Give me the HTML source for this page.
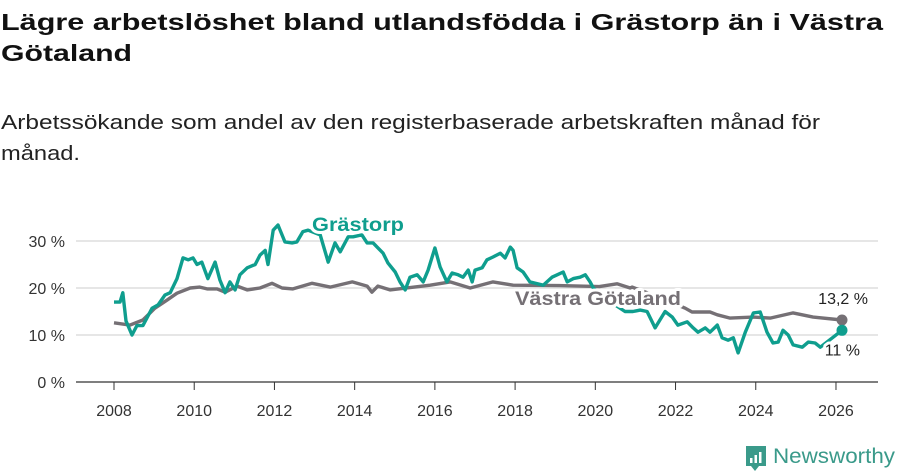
<!DOCTYPE html>
<html><head><meta charset="utf-8"><style>
body{margin:0;background:#fff;}
svg{display:block;font-family:"Liberation Sans",sans-serif;}
</style></head><body>
<svg id="chart" width="900" height="474" viewBox="0 0 900 474" xmlns="http://www.w3.org/2000/svg">
<text x="1" y="30" font-size="23" font-weight="bold" fill="#111" textLength="882" lengthAdjust="spacingAndGlyphs">Lägre arbetslöshet bland utlandsfödda i Grästorp än i Västra</text>
<text x="1" y="61" font-size="23" font-weight="bold" fill="#111" textLength="131" lengthAdjust="spacingAndGlyphs">Götaland</text>
<text x="1" y="129" font-size="20" fill="#222" textLength="819" lengthAdjust="spacingAndGlyphs">Arbetssökande som andel av den registerbaserade arbetskraften månad för</text>
<text x="1" y="160" font-size="20" fill="#222" textLength="79" lengthAdjust="spacingAndGlyphs">månad.</text>
<g id="grid"></g><g id="xaxis"></g><g id="series"></g><g id="labels"></g>
<g>
<path d="M746 446h20v20h-7l-4 5l-4-5h-5z" fill="#3a9a8a"/>
<rect x="750" y="458" width="2.5" height="5" fill="#fff"/><rect x="754.5" y="455" width="2.5" height="8" fill="#fff"/><rect x="759" y="452" width="2.5" height="11" fill="#fff"/>
<text x="773" y="463" font-size="21" fill="#3a9a8a" textLength="122" lengthAdjust="spacingAndGlyphs">Newsworthy</text>
</g>
</svg>
<script>
const yTicks=[0,10,20,30];
const yTickLabels=["0 %","10 %","20 %","30 %"];
const xTicks=[2008,2010,2012,2014,2016,2018,2020,2022,2024,2026];
const grYears=[2008.0,2008.15,2008.22,2008.3,2008.45,2008.57,2008.72,2008.95,2009.1,2009.27,2009.4,2009.57,2009.72,2009.85,2009.97,2010.07,2010.19,2010.34,2010.52,2010.64,2010.77,2010.89,2011.02,2011.14,2011.32,2011.52,2011.64,2011.77,2011.84,2011.97,2012.09,2012.26,2012.44,2012.56,2012.71,2012.84,2013.14,2013.34,2013.51,2013.64,2013.84,2013.96,2014.18,2014.31,2014.46,2014.56,2014.71,2014.83,2015.01,2015.13,2015.26,2015.38,2015.56,2015.71,2015.83,2016.0,2016.13,2016.3,2016.43,2016.58,2016.7,2016.83,2016.93,2017.0,2017.18,2017.3,2017.45,2017.63,2017.75,2017.88,2017.95,2018.05,2018.2,2018.37,2018.7,2018.92,2019.05,2019.2,2019.3,2019.45,2019.62,2019.75,2019.87,2019.95,2020.3,2020.74,2020.94,2021.12,2021.29,2021.49,2021.74,2021.92,2022.06,2022.29,2022.44,2022.56,2022.74,2022.86,2023.04,2023.16,2023.31,2023.44,2023.56,2023.74,2023.94,2024.11,2024.28,2024.43,2024.56,2024.68,2024.81,2024.93,2025.16,2025.31,2025.48,2025.61,2025.91,2026.15];
const grValues=[17.0,17.0,19.0,13.0,10.0,12.0,12.0,15.7,16.4,18.5,19.0,22.0,26.4,26.0,26.4,25.0,25.5,22.0,25.5,21.7,19.0,21.3,19.6,22.8,24.3,25.0,27.0,28.0,25.0,32.3,33.4,29.8,29.6,29.8,32.0,32.3,31.3,25.5,29.6,27.7,30.9,30.9,31.3,29.6,29.6,28.7,27.4,25.3,23.4,21.3,19.6,22.3,22.8,21.3,23.8,28.5,24.5,21.3,23.2,22.8,22.3,23.8,21.3,23.8,24.3,26.0,26.6,27.4,26.4,28.7,28.0,24.3,23.4,21.3,20.6,22.3,22.8,23.4,21.3,22.0,22.3,22.8,21.3,20.0,17.5,15.0,15.0,15.3,15.0,11.5,15.0,13.8,12.1,12.8,11.5,10.6,11.5,10.6,12.1,9.4,8.9,9.4,6.2,10.6,14.7,14.9,10.6,8.3,8.5,11.0,10.0,7.9,7.4,8.5,8.3,7.4,9.4,11.0];
const vgYears=[2008.0,2008.4,2008.72,2009.02,2009.32,2009.57,2009.9,2010.14,2010.32,2010.57,2010.77,2011.07,2011.32,2011.64,2011.94,2012.19,2012.46,2012.94,2013.39,2013.94,2014.31,2014.43,2014.58,2014.88,2015.88,2016.38,2016.88,2017.45,2017.95,2019.1,2020.1,2020.54,2020.87,2020.92,2021.6,2022.24,2022.41,2022.86,2023.04,2023.36,2023.94,2024.36,2024.93,2025.43,2026.15];
const vgValues=[12.6,12.1,13.2,15.7,17.4,18.9,20.0,20.2,19.8,19.8,19.1,20.4,19.6,20.0,21.0,20.0,19.8,21.0,20.2,21.3,20.4,19.1,20.4,19.6,20.6,21.3,20.0,21.3,20.6,20.5,20.3,20.9,20.0,20.2,18.0,15.7,14.9,14.9,14.3,13.6,13.8,13.6,14.7,13.8,13.2];
const grLast="11 %", vgLast="13,2 %";

const NS="http://www.w3.org/2000/svg";
const X0=76,X1=878;
function xs(y){return 114+(y-2008)*40.11;}
function ys(v){return 382-v*4.7;}
function mk(tag,attrs,parent){const e=document.createElementNS(NS,tag);for(const k in attrs)e.setAttribute(k,attrs[k]);parent.appendChild(e);return e;}
const grid=document.getElementById('grid'),xa=document.getElementById('xaxis'),ser=document.getElementById('series'),lab=document.getElementById('labels');
yTicks.forEach((t,i)=>{
 const l=mk('line',{x1:X0,x2:X1,y1:ys(t),y2:ys(t),stroke:t===0?'#333':'#ddd','stroke-width':t===0?1.2:1.5},grid);
 
 
 const tx=mk('text',{x:65,y:ys(t)+6,'text-anchor':'end','font-size':16,fill:'#333'},grid);
 tx.textContent=yTickLabels[i];
 
 
});
xTicks.forEach(t=>{
 const l=mk('line',{x1:xs(t),x2:xs(t),y1:382,y2:390,stroke:'#333','stroke-width':1},xa);
 
 
 const tx=mk('text',{x:xs(t),y:416,'text-anchor':'middle','font-size':16,fill:'#333'},xa);
 tx.textContent=t;
 
 
});
function line(years,vals,color,name){
 const d=years.map((y,i)=>(i?'L':'M')+xs(y).toFixed(1)+' '+ys(vals[i]).toFixed(1)).join('');
 const p=mk('path',{d:d,fill:'none',stroke:color,'stroke-width':3.4,'stroke-linejoin':'round'},ser);
 
 
 const n=years.length-1;
 const c=mk('circle',{cx:xs(years[n]),cy:ys(vals[n]),r:5.5,fill:color},ser);
 
 
}
line(vgYears,vgValues,'#757075','vastra-gotaland-line');
line(grYears,grValues,'#0f9e8e','grastorp-line');
function label(x,y,txt,color,size,weight,name,anchor,len){
 const a={x:x,y:y,'font-size':size,'font-weight':weight,fill:color,stroke:'#fff','stroke-width':6,'paint-order':'stroke','stroke-linejoin':'round','text-anchor':anchor||'start'};
 if(len){a.textLength=len;a.lengthAdjust='spacingAndGlyphs';}
 const t=mk('text',a,lab);
 t.textContent=txt;
 
 
}
label(312,231,'Grästorp','#0f9e8e',19,'bold','grastorp-label',null,92);
label(515,305,'Västra Götaland','#757075',19,'bold','vastra-gotaland-label',null,166);
const gn=grValues.length-1, vn=vgValues.length-1;
label(xs(vgYears[vn])+26,ys(vgValues[vn])-16,vgLast,'#222',16,'normal','vastra-gotaland-end-label','end');
label(xs(grYears[gn])+18,ys(grValues[gn])+25,grLast,'#222',16,'normal','grastorp-end-label','end');
</script>
</body></html>
